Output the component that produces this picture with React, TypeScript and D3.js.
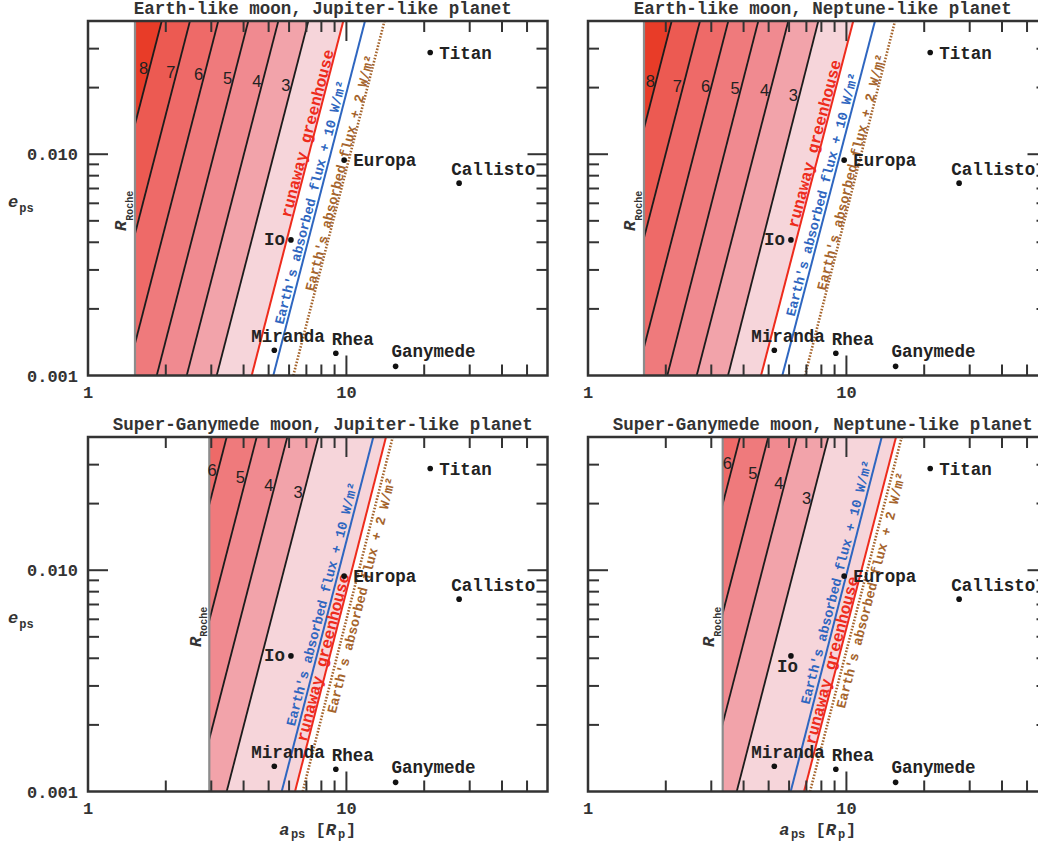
import * as d3 from 'd3'

// axis ranges
const A_MIN = 1
const A_MAX = 60
const E_MIN = 0.001
const E_MAX = 0.04

const xTickValues = [2, 3, 4, 5, 6, 7, 8, 9, 10, 20, 30, 40, 50]
const xMajor = [10]
const xLabelValues = [1, 10]
const xLabelText = ['1', '10']
const yTickValues = [0.002, 0.003, 0.004, 0.005, 0.006, 0.007, 0.008, 0.009, 0.01, 0.02, 0.03]
const yMajor = [0.01]
const yLabelValues = [0.001, 0.01]
const yLabelText = ['0.001', '0.010']

const titles = [
  'Earth-like moon, Jupiter-like planet',
  'Earth-like moon, Neptune-like planet',
  'Super-Ganymede moon, Jupiter-like planet',
  'Super-Ganymede moon, Neptune-like planet',
]

// contour levels per moon type
const levelsEarth = [8, 7, 6, 5, 4, 3]
const levelsGany = [6, 5, 4, 3]

// a_ps where each contour crosses e = 0.001 (Low) and e = 0.04 (High)
const ejContourLow = [0.852, 1.097, 1.412, 1.845, 2.41, 3.148]
const ejContourHigh = [1.929, 2.481, 3.193, 4.173, 5.452, 7.123]
const enContourLow = [0.932, 1.199, 1.543, 2.027, 2.634, 3.482]
const enContourHigh = [2.108, 2.713, 3.491, 4.561, 5.96, 7.787]
const gjContourLow = [1.521, 1.988, 2.611, 3.441]
const gjContourHigh = [3.441, 4.496, 5.906, 7.787]
const gnContourLow = [1.713, 2.204, 2.84, 3.763]
const gnContourHigh = [3.875, 4.986, 6.423, 8.511]

// habitability limits: [runaway greenhouse, +10 W/m², +2 W/m²]
const limitNames = ['runaway greenhouse', "Earth's absorbed flux + 10 W/m²", "Earth's absorbed flux + 2 W/m²"]
const ejLimitLow = [4.3, 5.213, 6.23]
const ejLimitHigh = [9.727, 11.8, 14.04]
const enLimitLow = [4.673, 5.648, 6.915]
const enLimitHigh = [10.63, 12.9, 15.42]
const gjLimitLow = [6.325, 5.618, 6.775]
const gjLimitHigh = [14.23, 12.71, 15.11]
const gnLimitLow = [6.855, 6.087, 7.231]
const gnLimitHigh = [15.56, 13.7, 16.37]

const rocheLimit = [1.52, 1.647, 2.947, 3.321]

// solar system moons
const moonNames = ['Titan', 'Europa', 'Callisto', 'Io', 'Miranda', 'Rhea', 'Ganymede']
const moonA = [21.1, 9.8, 27.3, 6.1, 5.26, 9.1, 15.5]
const moonE = [0.0288, 0.0094, 0.0074, 0.0041, 0.0013, 0.00126, 0.0011]

// styling / layout
const FONT = "'Liberation Mono', 'DejaVu Sans Mono', monospace"
const SANS = "'Liberation Sans', Arial, sans-serif"
const AXIS = '#333'
const PW = 459.5
const PH = 354.5
const levelFill: Record<number, string> = {
  8: '#e83c28', 7: '#ec5a52', 6: '#ee6a68', 5: '#ef7a7c', 4: '#f08a90', 3: '#f2a3aa',
}
const pinkFill = '#f6d5da'
const limitColors = ['#ee2b1c', '#2e66c0', '#a5642c']
const moonLabelOffset: Record<string, [number, number, string]> = {
  Titan: [9, 6, 'start'],
  Europa: [9, 6, 'start'],
  Callisto: [-8, -8, 'start'],
  Io: [-6, 5, 'end'],
  Miranda: [-23, -8, 'start'],
  Rhea: [-4, -8, 'start'],
  Ganymede: [-4, -9, 'start'],
}

interface PanelSpec {
  left: number
  top: number
  title: string
  levels: number[]
  cLow: number[]
  cHigh: number[]
  lLow: number[]
  lHigh: number[]
  roche: number
  levelLabelE: number[]
  limitLabelE: number[]
  limitOffset: number[]
  showYLabel: boolean
  showXLabel: boolean
  ioBelow?: boolean
}

const panels: PanelSpec[] = [
  {
    left: 88, top: 21, title: titles[0], levels: levelsEarth, cLow: ejContourLow, cHigh: ejContourHigh,
    lLow: ejLimitLow, lHigh: ejLimitHigh, roche: rocheLimit[0],
    levelLabelE: [0.0245, 0.0235, 0.023, 0.0222, 0.0215, 0.0205],
    limitLabelE: [0.0122, 0.00594, 0.00811], limitOffset: [-1.5, -3, -1],
    showYLabel: true, showXLabel: false,
  },
  {
    left: 588, top: 21, title: titles[1], levels: levelsEarth, cLow: enContourLow, cHigh: enContourHigh,
    lLow: enLimitLow, lHigh: enLimitHigh, roche: rocheLimit[1],
    levelLabelE: [0.0215, 0.0204, 0.0204, 0.02, 0.0196, 0.0185],
    limitLabelE: [0.01096, 0.00645, 0.00819], limitOffset: [-1.5, -3, -1],
    showYLabel: false, showXLabel: false,
  },
  {
    left: 88, top: 437, title: titles[2], levels: levelsGany, cLow: gjContourLow, cHigh: gjContourHigh,
    lLow: gjLimitLow, lHigh: gjLimitHigh, roche: rocheLimit[2],
    levelLabelE: [0.0283, 0.0263, 0.0242, 0.0225],
    limitLabelE: [0.00397, 0.00688, 0.00788], limitOffset: [-1, -3.5, 13],
    showYLabel: true, showXLabel: true,
  },
  {
    left: 588, top: 437, title: titles[3], levels: levelsGany, cLow: gnContourLow, cHigh: gnContourHigh,
    lLow: gnLimitLow, lHigh: gnLimitHigh, roche: rocheLimit[3],
    levelLabelE: [0.0306, 0.0274, 0.0247, 0.0213],
    limitLabelE: [0.00385, 0.00865, 0.0083], limitOffset: [-1, -3.5, 13],
    showYLabel: false, showXLabel: true, ioBelow: true,
  },
]

function Panel({ p, idx }: { p: PanelSpec; idx: number }) {
  const x = d3.scaleLog().domain([A_MIN, A_MAX]).range([p.left, p.left + PW])
  const y = d3.scaleLog().domain([E_MIN, E_MAX]).range([p.top + PH, p.top])
  const right = p.left + PW
  const bottom = p.top + PH
  const clipId = `clip-${idx}`

  // point on a power-law line at eccentricity e
  const aAt = (lo: number, hi: number, e: number) => {
    const t = (Math.log(e) - Math.log(E_MIN)) / (Math.log(E_MAX) - Math.log(E_MIN))
    return Math.exp(Math.log(lo) + t * (Math.log(hi) - Math.log(lo)))
  }
  const seg = (lo: number, hi: number) => ({ x1: x(lo), y1: y(E_MIN), x2: x(hi), y2: y(E_MAX) })

  // filled bands between successive lines: >top level, each level step, then up to runaway greenhouse
  const bounds = [{ lo: A_MIN, hi: A_MIN }].concat(
    p.cLow.map((lo, i) => ({ lo, hi: p.cHigh[i] })),
    [{ lo: p.lLow[0], hi: p.lHigh[0] }],
  )
  const bandColors = [levelFill[p.levels[0]]].concat(p.levels.slice(1).map(l => levelFill[l]), [pinkFill])
  const bands = bounds.slice(0, -1).map((b, i) => {
    const r = bounds[i + 1]
    const pts: [number, number][] = [
      [x(b.lo), y(E_MIN)], [x(b.hi), y(E_MAX)], [x(r.hi), y(E_MAX)], [x(r.lo), y(E_MIN)],
    ]
    return { d: d3.line()(pts) + 'Z', fill: bandColors[i] }
  })

  const lineLabel = (lo: number, hi: number, e: number, off: number) => {
    const s = seg(lo, hi)
    const th = Math.atan2(s.y2 - s.y1, s.x2 - s.x1)
    const px = x(aAt(lo, hi, e))
    const py = y(e)
    const ux = Math.sin(th)
    const uy = -Math.cos(th)
    return { tx: px - off * ux, ty: py - off * uy, deg: (th * 180) / Math.PI }
  }

  const cx = p.left + PW / 2

  return (
    <g>
      <defs>
        <clipPath id={clipId}>
          <rect x={x(p.roche)} y={p.top} width={right - x(p.roche)} height={PH} />
        </clipPath>
      </defs>
      <g clipPath={`url(#${clipId})`}>
        {bands.map((b, i) => <path key={i} d={b.d} fill={b.fill} />)}
        {p.cLow.map((lo, i) => {
          const s = seg(lo, p.cHigh[i])
          return <line key={i} {...s} stroke="#1c1c1c" strokeWidth={1.8} />
        })}
      </g>
      <line x1={x(p.roche)} x2={x(p.roche)} y1={p.top} y2={bottom} stroke="#8c8c8c" strokeWidth={2.2} />
      {p.levels.map((lev, i) => {
        const e = p.levelLabelE[i]
        const lx = x(aAt(p.cLow[i], p.cHigh[i], e)) - 6
        return (
          <text key={lev} x={lx} y={y(e) + 6} textAnchor="middle" fontFamily={SANS} fontSize={16.5} fill="#222">
            {lev}
          </text>
        )
      })}
      {p.lLow.map((lo, i) => {
        const s = seg(lo, p.lHigh[i])
        return (
          <line key={i} {...s} stroke={limitColors[i]} strokeWidth={i === 2 ? 2.6 : 2}
            strokeDasharray={i === 2 ? '1.6,1.6' : undefined} />
        )
      })}
      {p.lLow.map((lo, i) => {
        const L = lineLabel(lo, p.lHigh[i], p.limitLabelE[i], p.limitOffset[i])
        return (
          <text key={i} transform={`translate(${L.tx},${L.ty}) rotate(${L.deg})`} textAnchor="middle"
            fontFamily={FONT} fontWeight="bold" fontSize={i === 0 ? 16 : 13.5} fill={limitColors[i]}>
            {limitNames[i]}
          </text>
        )
      })}
      <text transform={`translate(${x(p.roche) - 8.5},${y(0.0045)}) rotate(-90)`} fill="#333">
        <tspan fontFamily={FONT} fontStyle="italic" fontWeight="bold" fontSize={17}>R</tspan>
        <tspan fontFamily={FONT} fontWeight="bold" fontSize={10} dy={6.5}>Roche</tspan>
      </text>
      {moonNames.map((n, i) => {
        const mx = x(moonA[i])
        const my = y(moonE[i])
        let [dx, dy, anchor] = moonLabelOffset[n]
        if (n === 'Io' && p.ioBelow) { dx = -14; dy = 16; anchor = 'start' }
        return (
          <g key={n}>
            <circle cx={mx} cy={my} r={2.8} fill="#111" />
            <text x={mx + dx} y={my + dy} textAnchor={anchor} fontFamily={FONT} fontWeight="bold" fontSize={17.5} fill="#222">
              {n}
            </text>
          </g>
        )
      })}
      {/* frame */}
      <rect x={p.left} y={p.top} width={PW} height={PH} fill="none" stroke={AXIS} strokeWidth={2.5} />
      {xTickValues.map(v => {
        const len = xMajor.includes(v) ? 20 : 11
        return (
          <g key={v} stroke={AXIS} strokeWidth={2}>
            <line x1={x(v)} x2={x(v)} y1={bottom} y2={bottom - len} />
            <line x1={x(v)} x2={x(v)} y1={p.top} y2={p.top + len} />
          </g>
        )
      })}
      {yTickValues.map(v => {
        const len = yMajor.includes(v) ? 20 : 11
        return (
          <g key={v} stroke={AXIS} strokeWidth={2}>
            <line x1={p.left} x2={p.left + len} y1={y(v)} y2={y(v)} />
            <line x1={right} x2={right - len} y1={y(v)} y2={y(v)} />
          </g>
        )
      })}
      {xLabelValues.map((v, i) => (
        <text key={v} x={x(v)} y={bottom + 22.5} textAnchor="middle" fontFamily={FONT} fontWeight="bold" fontSize={17} fill="#333">
          {xLabelText[i]}
        </text>
      ))}
      {p.showYLabel && yLabelValues.map((v, i) => (
        <text key={v} x={p.left - 10} y={y(v) + 6} textAnchor="end" fontFamily={FONT} fontWeight="bold" fontSize={17} fill="#333">
          {yLabelText[i]}
        </text>
      ))}
      <text x={cx + 5} y={p.top - 7} textAnchor="middle" fontFamily={FONT} fontWeight="bold" fontSize={17.5} fill="#333">
        {p.title}
      </text>
      {p.showYLabel && (
        <text x={8} y={p.top + 186} fill="#333" fontFamily={FONT} fontWeight="bold">
          <tspan fontStyle="italic" fontSize={17}>e</tspan>
          <tspan fontSize={12} dx={1} dy={5}>ps</tspan>
        </text>
      )}
      {p.showXLabel && (
        <text x={cx} y={bottom + 43} textAnchor="middle" fill="#333" fontFamily={FONT} fontWeight="bold">
          <tspan fontStyle="italic" fontSize={17}>a</tspan>
          <tspan fontSize={12} dx={1.5} dy={3.5}>ps</tspan>
          <tspan fontSize={17} dy={-3.5}>{'\u00a0['}</tspan>
          <tspan fontStyle="italic" fontSize={17}>R</tspan>
          <tspan fontSize={12} dx={2} dy={3.5}>p</tspan>
          <tspan fontSize={17} dx={1} dy={-3.5}>]</tspan>
        </text>
      )}
    </g>
  )
}

export default function App() {
  return (
    <svg width={1038} height={846} style={{ position: 'absolute', left: 0, top: 0, background: '#fff' }}>
      {panels.map((p, i) => <Panel key={i} p={p} idx={i} />)}
    </svg>
  )
}
